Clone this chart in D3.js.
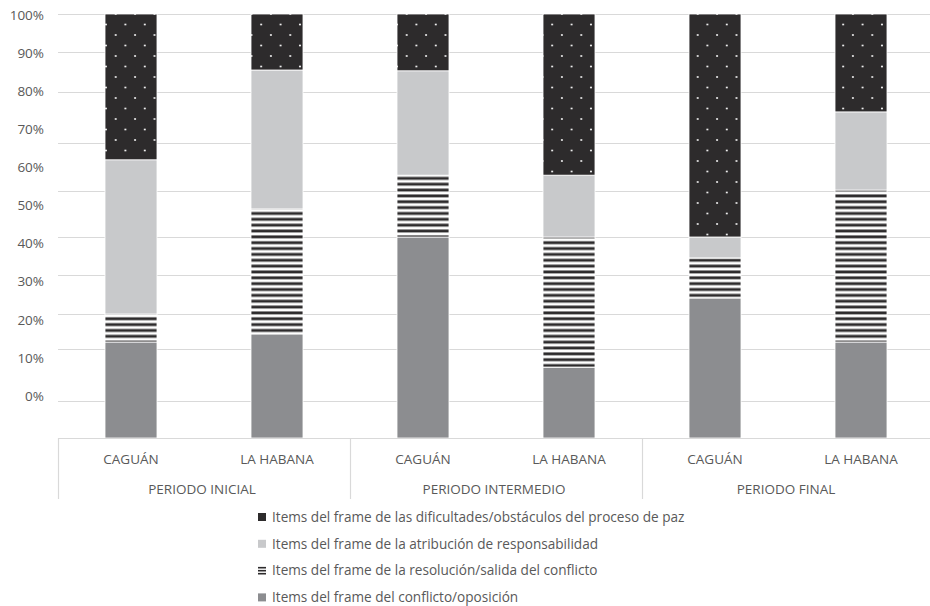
<!DOCTYPE html>
<html>
<head>
<meta charset="utf-8">
<script src="https://cdn.jsdelivr.net/npm/d3@7"></script>
<style>
  html, body { margin: 0; padding: 0; background: #fff; }
  svg { display: block; font-family: "Open Sans", sans-serif; }
</style>
</head>
<body>
<svg id="chart" width="930" height="606"></svg>
<script>
// Periods and peace processes (one bar per process within each period)
const periods = ["PERIODO INICIAL", "PERIODO INTERMEDIO", "PERIODO FINAL"];
const processes = ["CAGUÁN", "LA HABANA"];

// Share of items per frame (%), stacked bottom to top
const conflicto       = [22.0, 24.3, 50.0, 16.5, 34.1, 22.0];
const resolucion      = [ 8.0, 31.8, 13.3, 33.5, 10.4, 38.2];
const responsabilidad = [36.5, 29.4, 22.0, 13.3,  5.5, 15.9];
const dificultades    = [33.5, 14.5, 14.7, 36.7, 50.0, 23.9];

const seriesNames = [
  "Items del frame del conflicto/oposición",
  "Items del frame de la resolución/salida del conflicto",
  "Items del frame de la atribución de responsabilidad",
  "Items del frame de las dificultades/obstáculos del proceso de paz"
];
const seriesKeys = ["conflicto", "resolucion", "responsabilidad", "dificultades"];
const seriesValues = [conflicto, resolucion, responsabilidad, dificultades];

// Axis tick labels
const tickValues = [0, 10, 20, 30, 40, 50, 60, 70, 80, 90, 100];
const tickLabels = tickValues.map(v => v + "%");

// ---- build table ----
const rows = [];
periods.forEach((p, pi) => {
  processes.forEach((proc, ci) => {
    const i = pi * processes.length + ci;
    const row = { id: i, period: p, process: proc };
    seriesKeys.forEach((k, si) => { row[k] = seriesValues[si][i]; });
    rows.push(row);
  });
});

const svg = d3.select("#chart");
const textColor = "#595959";
const gridColor = "#d9d9d9";

// ---- scales ----
const left = 58, right = 934, baseY = 438;
const x = d3.scaleBand()
  .domain(rows.map(d => d.id))
  .range([left, right])
  .paddingInner(0.644)
  .paddingOuter(0.322);
const xPeriod = d3.scaleBand().domain(periods).range([left, right]);

// value scale used for bars and gridlines (piecewise across the decades)
const y = d3.scaleLinear()
  .domain(tickValues)
  .range([438, 401, 349, 314, 275, 237, 191, 143, 92, 52, 14]);
// scale placing the percentage labels along the left edge
const yLabel = d3.scaleLinear().domain([0, 100]).range([396, 15]);

// ---- patterns ----
const defs = svg.append("defs");
const dots = defs.append("pattern")
  .attr("id", "pat-dots")
  .attr("patternUnits", "userSpaceOnUse")
  .attr("width", 19.4).attr("height", 21)
  .attr("x", 106).attr("y", 14);
dots.append("rect").attr("width", 19.4).attr("height", 21).attr("fill", "#2d2b2c");
[[9.7, 0], [9.7, 21], [0, 10.5], [19.4, 10.5]].forEach(([cx, cy]) => {
  dots.append("circle").attr("cx", cx).attr("cy", cy).attr("r", 1.05).attr("fill", "#f0f0f0");
});

const stripes = defs.append("pattern")
  .attr("id", "pat-stripes")
  .attr("patternUnits", "userSpaceOnUse")
  .attr("width", 8).attr("height", 5.85);
stripes.append("rect").attr("width", 8).attr("height", 5.85).attr("fill", "#ffffff");
stripes.append("rect").attr("y", 1.4).attr("width", 8).attr("height", 2.9).attr("fill", "#2d2b2c");

const fills = {
  conflicto: "#8c8d90",
  resolucion: "url(#pat-stripes)",
  responsabilidad: "#c8c9cb",
  dificultades: "url(#pat-dots)"
};

// ---- gridlines ----
svg.append("g").selectAll("line")
  .data(tickValues)
  .join("line")
  .attr("x1", left).attr("x2", 930)
  .attr("y1", d => Math.round(y(d)) + 0.5)
  .attr("y2", d => Math.round(y(d)) + 0.5)
  .attr("stroke", gridColor)
  .attr("stroke-width", 1.2);

// ---- y labels ----
svg.append("g").selectAll("text")
  .data(tickValues)
  .join("text")
  .attr("x", 44)
  .attr("y", d => yLabel(d))
  .attr("dy", "0.35em")
  .attr("text-anchor", "end")
  .attr("fill", textColor)
  .attr("font-size", 13.5)
  .text((d, i) => tickLabels[i]);

// ---- stacked bars ----
const stack = d3.stack().keys(seriesKeys)(rows);
svg.append("g").selectAll("g")
  .data(stack)
  .join("g")
  .attr("fill", s => fills[s.key])
  .selectAll("rect")
  .data(s => s)
  .join("rect")
  .attr("x", d => x(d.data.id))
  .attr("width", x.bandwidth())
  .attr("y", d => y(d[1]))
  .attr("height", d => y(d[0]) - y(d[1]))
  .attr("stroke", "#ffffff")
  .attr("stroke-width", 0.8);

// ---- category axis ----
const axisG = svg.append("g");
axisG.append("line")
  .attr("x1", left).attr("x2", 930)
  .attr("y1", baseY + 0.5).attr("y2", baseY + 0.5)
  .attr("stroke", gridColor).attr("stroke-width", 1.2);
axisG.selectAll("line.sep")
  .data(periods)
  .join("line")
  .attr("class", "sep")
  .attr("x1", d => Math.round(xPeriod(d)) + 0.5)
  .attr("x2", d => Math.round(xPeriod(d)) + 0.5)
  .attr("y1", baseY).attr("y2", 499)
  .attr("stroke", gridColor).attr("stroke-width", 1.2);

axisG.selectAll("text.proc")
  .data(rows)
  .join("text")
  .attr("class", "proc")
  .attr("x", d => x(d.id) + x.bandwidth() / 2)
  .attr("y", 459)
  .attr("dy", "0.35em")
  .attr("text-anchor", "middle")
  .attr("fill", textColor)
  .attr("font-size", 13.5)
  .text(d => d.process);

axisG.selectAll("text.period")
  .data(periods)
  .join("text")
  .attr("class", "period")
  .attr("x", d => xPeriod(d) + xPeriod.bandwidth() / 2 - 2)
  .attr("y", 489)
  .attr("dy", "0.35em")
  .attr("text-anchor", "middle")
  .attr("fill", textColor)
  .attr("font-size", 13.5)
  .text(d => d);

// ---- legend (top series first) ----
const legendOrder = [3, 2, 1, 0];
const legend = svg.append("g").attr("transform", "translate(258,517)");
const item = legend.selectAll("g")
  .data(legendOrder)
  .join("g")
  .attr("transform", (d, i) => `translate(0, ${i * 26.8})`);

item.each(function (si) {
  const g = d3.select(this);
  const key = seriesKeys[si];
  if (key === "resolucion") {
    [-3, 0, 3].forEach(o => {
      g.append("rect").attr("x", 0).attr("y", o - 0.7).attr("width", 8).attr("height", 1.6).attr("fill", "#2d2b2c");
    });
  } else {
    g.append("rect")
      .attr("x", 0).attr("y", -4)
      .attr("width", 8).attr("height", 8)
      .attr("fill", key === "dificultades" ? "#2d2b2c" : fills[key]);
  }
  g.append("text")
    .attr("x", 14)
    .attr("y", 0)
    .attr("dy", "0.35em")
    .attr("fill", textColor)
    .attr("font-size", 13.6)
    .text(seriesNames[si]);
});
</script>
</body>
</html>
